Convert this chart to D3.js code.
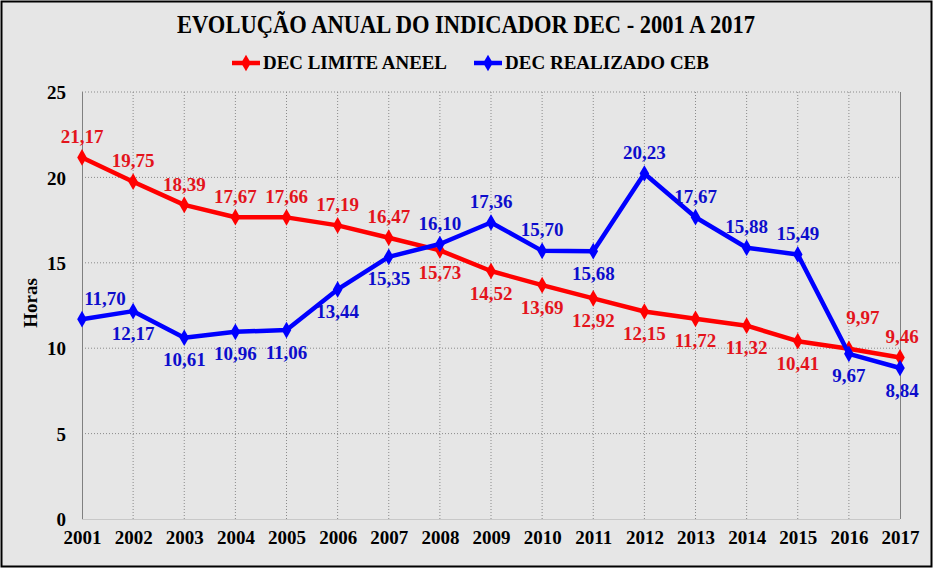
<!DOCTYPE html>
<html><head><meta charset="utf-8">
<script src="https://cdn.jsdelivr.net/npm/d3@7"></script>
<style>body{margin:0;background:#fff}svg{display:block}</style>
</head><body>
<svg id="c" width="935" height="570"></svg>
<script>
const years = ["2001","2002","2003","2004","2005","2006","2007","2008","2009","2010","2011","2012","2013","2014","2015","2016","2017"];
const limiteAneel = [21.17,19.75,18.39,17.67,17.66,17.19,16.47,15.73,14.52,13.69,12.92,12.15,11.72,11.32,10.41,9.97,9.46];
const realizadoCeb = [11.70,12.17,10.61,10.96,11.06,13.44,15.35,16.10,17.36,15.70,15.68,20.23,17.67,15.88,15.49,9.67,8.84];
const yTicks = [0,5,10,15,20,25];
const seriesNames = ["DEC LIMITE ANEEL","DEC REALIZADO CEB"];
const titleText = "EVOLUÇÃO ANUAL DO INDICADOR DEC - 2001 A 2017";
const yTitle = "Horas";

// label placement (layout, not data): 'a' above, 'b' below
const redPlace  = ["a","a","a","a","a","a","a","b","b","b","b","b","b","b","b","a2","a"];
const bluePlace = ["ar","b","b","b","b","b","b","a","a","a","b","a","a","a","a","b","b"];

const svg = d3.select("#c");
svg.append("rect").attr("x",1.5).attr("y",1.5).attr("width",930).attr("height",565)
  .attr("fill","#e6e6e6").attr("stroke","#000").attr("stroke-width",2);

const x = d3.scalePoint().domain(years).range([82,900]);
const y = d3.scaleLinear().domain([0,25]).range([519,92]);
const font = "'Liberation Serif','Times New Roman',serif";

// gridlines
const g = svg.append("g");
g.selectAll(".hg").data(yTicks.filter(d=>d>0)).join("line")
  .attr("x1",82).attr("x2",900).attr("y1",d=>y(d)).attr("y2",d=>y(d))
  .attr("stroke","#8a8a8a").attr("stroke-width",1).attr("stroke-dasharray","1,2");
g.selectAll(".vg").data(years.slice(1,-1)).join("line")
  .attr("x1",d=>x(d)).attr("x2",d=>x(d)).attr("y1",92).attr("y2",519)
  .attr("stroke","#8a8a8a").attr("stroke-width",1).attr("stroke-dasharray","1,2");
g.append("line").attr("x1",82.5).attr("x2",82.5).attr("y1",92).attr("y2",519).attr("stroke","#808080");
g.append("line").attr("x1",900.5).attr("x2",900.5).attr("y1",92).attr("y2",519).attr("stroke","#808080");
g.append("line").attr("x1",82).attr("x2",900).attr("y1",519.5).attr("y2",519.5).attr("stroke","#c8c8c8");

// y tick labels
const ya = d3.axisLeft(y).tickValues(yTicks).tickSize(0).tickPadding(16);
const yg = svg.append("g").attr("transform","translate(82,0)").call(ya);
yg.select(".domain").remove();
yg.selectAll("text").attr("font-family",font).attr("font-weight","bold").attr("font-size",19).attr("fill","#000").attr("dy","0.35em");
// x tick labels
const xa = d3.axisBottom(x).tickSize(0).tickPadding(18);
const xg = svg.append("g").attr("transform","translate(0,519)").call(xa);
xg.select(".domain").remove();
xg.selectAll("text").attr("font-family",font).attr("font-weight","bold").attr("font-size",19).attr("fill","#000").attr("dy","0.35em");

svg.append("text").attr("transform","translate(37,303) rotate(-90)").attr("text-anchor","middle")
  .attr("font-family",font).attr("font-weight","bold").attr("font-size",19).text(yTitle);

// title
svg.append("text").attr("x",466).attr("y",33).attr("text-anchor","middle")
  .attr("font-family",font).attr("font-weight","bold").attr("font-size",25)
  .attr("textLength",578).attr("lengthAdjust","spacingAndGlyphs").text(titleText);

// series
const series = [
  {name:seriesNames[0], vals:limiteAneel, color:"#ff0000", label:"#e3141c", place:redPlace},
  {name:seriesNames[1], vals:realizadoCeb, color:"#0000ff", label:"#0d0dcc", place:bluePlace}
];
const line = d3.line().x((d,i)=>x(years[i])).y(d=>y(d));
const diamond = d3.symbol().type(d3.symbolDiamond).size(80);
const fmt = v => d3.format(".2f")(v).replace(".",",");

series.forEach(s=>{
  svg.append("path").datum(s.vals).attr("d",line).attr("fill","none")
    .attr("stroke",s.color).attr("stroke-width",4.5).attr("stroke-linejoin","round");
  svg.selectAll(null).data(s.vals).join("path")
    .attr("d",diamond).attr("transform",(d,i)=>`translate(${x(years[i])},${y(d)})`).attr("fill",s.color);
});
series.forEach(s=>{
  svg.selectAll(null).data(s.vals).join("text")
    .attr("x",(d,i)=>x(years[i]) + (s.place[i]==="ar"?23:s.place[i]==="a2"?14:(i===16?2:0)))
    .attr("y",(d,i)=>y(d) + (s.place[i]==="b"?22:s.place[i]==="a2"?-31:-21))
    .attr("dy","0.35em").attr("text-anchor","middle")
    .attr("font-family",font).attr("font-weight","bold").attr("font-size",19)
    .attr("fill",s.label).text(d=>fmt(d));
});

// legend
const leg = [{x:232,s:series[0],tl:184},{x:474,s:series[1],tl:204}];
leg.forEach(l=>{
  svg.append("line").attr("x1",l.x).attr("x2",l.x+28).attr("y1",63).attr("y2",63)
    .attr("stroke",l.s.color).attr("stroke-width",4.5);
  svg.append("path").attr("d",diamond).attr("transform",`translate(${l.x+14},63)`).attr("fill",l.s.color);
  svg.append("text").attr("x",l.x+31).attr("y",69).attr("font-family",font).attr("font-weight","bold")
    .attr("font-size",19).attr("textLength",l.tl).attr("lengthAdjust","spacingAndGlyphs").text(l.s.name);
});
</script>
</body></html>
